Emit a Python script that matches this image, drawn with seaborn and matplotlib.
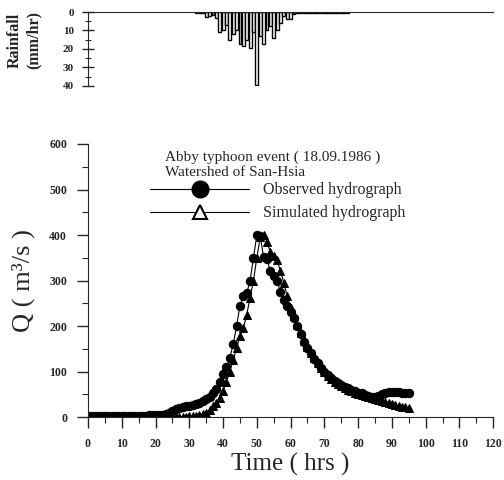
import numpy as np
import pandas as pd
import seaborn as sns
import matplotlib.pyplot as plt
from matplotlib.lines import Line2D
from matplotlib.ticker import MultipleLocator

# Hourly time axis for both hydrographs (hrs)
hours = list(range(0, 96))

# Observed discharge (m3/s)
observed = [3, 3, 3, 3, 3, 3, 3, 3, 3, 3,
            3, 3, 3, 3, 3, 3, 3, 3, 4, 4,
            4, 5, 5, 7, 10, 14, 18, 21, 23, 24,
            25, 27, 29, 32, 36, 40, 45, 52, 62, 78,
            95, 110, 130, 160, 200, 245, 265, 272, 300, 350,
            400, 398, 352, 348, 320, 310, 298, 275, 258, 245,
            232, 218, 200, 182, 166, 152, 140, 128, 118, 108,
            100, 92, 85, 79, 74, 70, 66, 63, 60, 57,
            54, 52, 49, 46, 44, 44, 46, 50, 53, 55,
            56, 56, 55, 54, 53, 52]

# Simulated discharge (m3/s)
simulated = [1, 1, 1, 1, 1, 1, 1, 1, 1, 1,
             1, 1, 1, 1, 1, 1, 1, 1, 1, 1,
             1, 1, 1, 1, 1, 1, 1, 1, 1, 1,
             2, 2, 3, 4, 6, 10, 16, 24, 32, 42,
             58, 78, 100, 125, 152, 178, 195, 225, 262, 300,
             350, 395, 400, 385, 362, 355, 345, 320, 295, 265,
             240, 222, 203, 184, 168, 153, 141, 129, 118, 108,
             99, 91, 84, 78, 73, 68, 64, 60, 57, 54,
             51, 49, 46, 44, 41, 39, 37, 35, 33, 31,
             29, 27, 25, 23, 22, 20]

# Rainfall hyetograph (mm/hr)
rain_time = list(range(32, 78))
rain_depth = [0.5, 0.5, 0.5, 2.5, 2, 1.5, 3, 11, 10, 7,
              15, 12, 9.5, 17.5, 18.5, 15, 19.5, 11, 39.5, 13,
              17.5, 10, 7.5, 14, 9.5, 6, 2, 4, 4, 1.3,
              0.7, 0.4, 0.4, 0.3, 0.3, 0.3, 0.3, 0.3, 0.3, 0.3,
              0.3, 0.3, 0.3, 0.3, 0.3, 0.3]

sns.set_style('ticks')
plt.rcParams['font.family'] = ['Liberation Serif', 'DejaVu Serif']

fig = plt.figure(figsize=(5.04, 4.8), dpi=100)
ax = fig.add_axes([0.1746, 0.131, 0.804, 0.569])
ax_r = fig.add_axes([0.1746, 0.821, 0.804, 0.154])

hydro = pd.DataFrame({'t': hours, 'obs': observed, 'sim': simulated})

sns.lineplot(data=hydro, x='t', y='sim', ax=ax, color='black', linewidth=0.8,
             marker='^', markersize=5.5, markerfacecolor='black', markeredgecolor='black')
sns.lineplot(data=hydro, x='t', y='obs', ax=ax, color='black', linewidth=0.8,
             marker='o', markersize=6, markerfacecolor='black', markeredgecolor='black')

ax.set_xlim(0, 120)
ax.set_ylim(0, 600)
ax.xaxis.set_major_locator(MultipleLocator(10))
ax.xaxis.set_minor_locator(MultipleLocator(5))
ax.yaxis.set_major_locator(MultipleLocator(100))
ax.yaxis.set_minor_locator(MultipleLocator(50))
ax.tick_params(which='major', direction='out', length=8, width=1, labelsize=8.5, pad=7)
ax.tick_params(which='minor', direction='out', length=4, width=0.8)
for lab in ax.get_xticklabels() + ax.get_yticklabels():
    lab.set_fontweight('bold')
sns.despine(ax=ax)
ax.set_xlabel('Time ( hrs )', fontsize=18, labelpad=2)
ax.set_ylabel('Q ( m³/s )', fontsize=19, labelpad=10)

# header text and legend
ax.text(0.19, 0.952, 'Abby typhoon event ( 18.09.1986 )', transform=ax.transAxes,
        fontsize=11, va='center', ha='left')
ax.text(0.19, 0.895, 'Watershed of San-Hsia', transform=ax.transAxes,
        fontsize=11, va='center', ha='left')
handles = [Line2D([0], [0], color='black', lw=0.8, marker='o', markersize=12,
                  markerfacecolor='black'),
           Line2D([0], [0], color='black', lw=0.8, marker='^', markersize=10,
                  markerfacecolor='white', markeredgewidth=1.5)]
ax.legend(handles, ['Observed hydrograph', 'Simulated hydrograph'], loc='upper left',
          bbox_to_anchor=(0.153, 0.86), frameon=False, fontsize=11.5, handlelength=6.2,
          handletextpad=0.9, labelspacing=0.45, borderpad=0, borderaxespad=0)

# rainfall panel (hanging bars)
sns.barplot(x=rain_time, y=rain_depth, native_scale=True, ax=ax_r, color='white',
            edgecolor='black', linewidth=1.0, width=0.85, errorbar=None)
ax_r.set_xlim(0, 120)
ax_r.set_ylim(40, 0)
ax_r.yaxis.set_major_locator(MultipleLocator(10))
ax_r.yaxis.set_minor_locator(MultipleLocator(5))
ax_r.tick_params(axis='y', which='major', direction='inout', length=8, width=1,
                 labelsize=8, pad=6)
ax_r.tick_params(axis='y', which='minor', direction='inout', length=4, width=0.8)
for lab in ax_r.get_yticklabels():
    lab.set_fontweight('bold')
ax_r.set_xticks([])
ax_r.spines['right'].set_visible(False)
ax_r.spines['bottom'].set_visible(False)
fig.text(24 / 504, 1 - 40 / 480, 'Rainfall\n(mm/hr)', rotation=90, ha='center',
         va='center', multialignment='center', fontsize=11.5, fontweight='bold')

fig.savefig('out.png', dpi=100)
